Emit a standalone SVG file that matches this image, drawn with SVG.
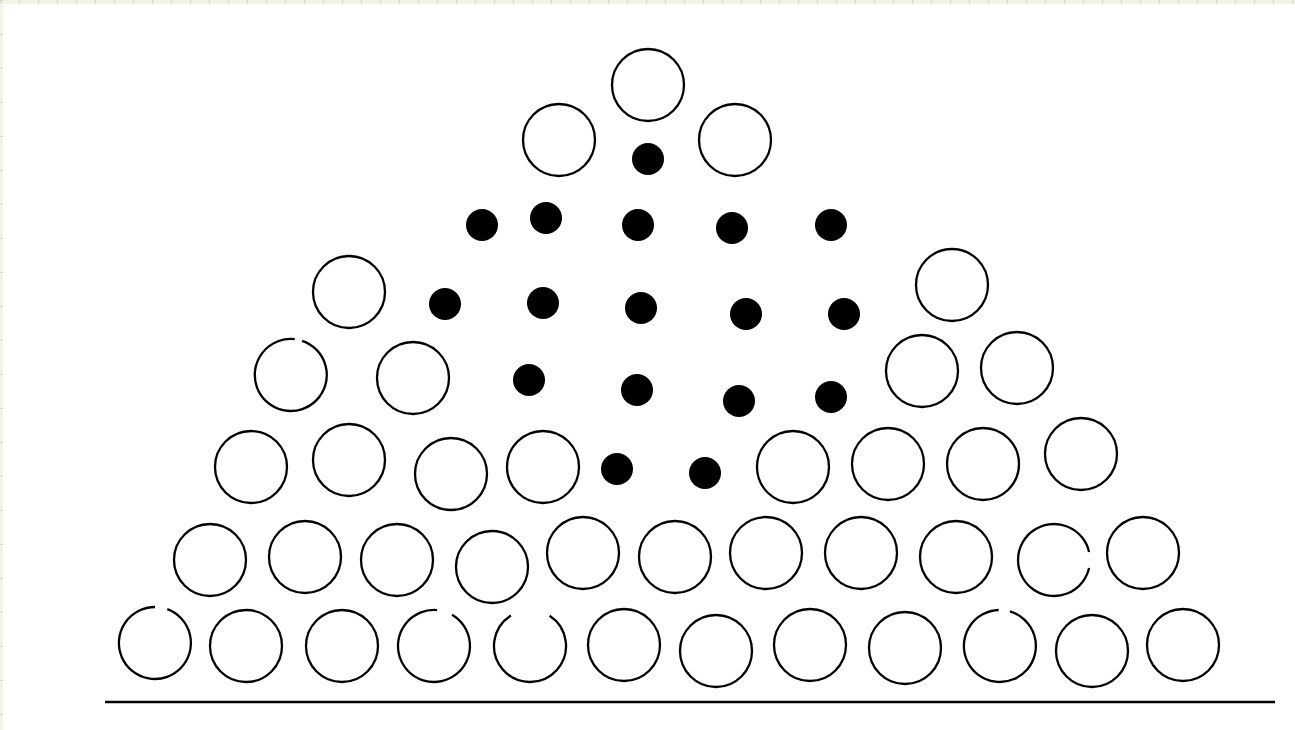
<svg xmlns="http://www.w3.org/2000/svg" width="1295" height="730" viewBox="0 0 1295 730">
<style>
.c{fill:none;stroke:#000;stroke-width:2.3}
.d{fill:#000;stroke:none}
.base{stroke:#000;stroke-width:2.5}
</style>
<rect x="0" y="0" width="1295" height="730" fill="#fff"/>
<rect x="0" y="0" width="1295" height="4" fill="#f4f4e6"/>
<rect x="0" y="0" width="3" height="730" fill="#f4f4e6"/>
<line x1="0" y1="2" x2="1295" y2="2" stroke="#d8d8c8" stroke-width="4" stroke-dasharray="1 18"/>
<line x1="1.5" y1="0" x2="1.5" y2="730" stroke="#d8d8c8" stroke-width="3" stroke-dasharray="1 33"/>
<g id="open-circles">
<circle class="c" cx="648" cy="85" r="36"/>
<circle class="c" cx="559" cy="140" r="36"/>
<circle class="c" cx="735" cy="140" r="36"/>
<circle class="c" cx="349" cy="292" r="36"/>
<circle class="c" cx="952" cy="285" r="36"/>
<path class="c" d="M302.1,340.8 A36,36 0 1 1 294.8,339.2"/>
<circle class="c" cx="413" cy="378" r="36"/>
<circle class="c" cx="922" cy="371" r="36"/>
<circle class="c" cx="1017" cy="368" r="36"/>
<circle class="c" cx="251" cy="467" r="36"/>
<circle class="c" cx="349" cy="460" r="36"/>
<circle class="c" cx="451" cy="474" r="36"/>
<circle class="c" cx="543" cy="467" r="36"/>
<circle class="c" cx="793" cy="467" r="36"/>
<circle class="c" cx="888" cy="464" r="36"/>
<circle class="c" cx="983" cy="464" r="36"/>
<circle class="c" cx="1081" cy="454" r="36"/>
<circle class="c" cx="210" cy="560" r="36"/>
<circle class="c" cx="305" cy="557" r="36"/>
<circle class="c" cx="397" cy="560" r="36"/>
<circle class="c" cx="492" cy="567" r="36"/>
<circle class="c" cx="583" cy="553" r="36"/>
<circle class="c" cx="675" cy="557" r="36"/>
<circle class="c" cx="766" cy="553" r="36"/>
<circle class="c" cx="861" cy="553" r="36"/>
<circle class="c" cx="956" cy="557" r="36"/>
<path class="c" d="M1089.1,568.1 A36,36 0 1 1 1089.1,551.9"/>
<circle class="c" cx="1143" cy="553" r="36"/>
<path class="c" d="M167.3,609.2 A36,36 0 1 1 155,607"/>
<circle class="c" cx="246" cy="646" r="36"/>
<circle class="c" cx="342" cy="646" r="36"/>
<path class="c" d="M452,614.8 A36,36 0 1 1 437.1,610.1"/>
<path class="c" d="M549.6,615.8 A36,36 0 1 1 510.9,615.5"/>
<circle class="c" cx="624" cy="645" r="36"/>
<circle class="c" cx="716" cy="651" r="36"/>
<circle class="c" cx="810" cy="645" r="36"/>
<circle class="c" cx="905" cy="648" r="36"/>
<path class="c" d="M1009.9,611.4 A36,36 0 1 1 998.7,610"/>
<circle class="c" cx="1092" cy="651" r="36"/>
<circle class="c" cx="1183" cy="645" r="36"/>
</g>
<g id="dots">
<circle class="d" cx="648" cy="159" r="16"/>
<circle class="d" cx="482" cy="225" r="16"/>
<circle class="d" cx="546" cy="218" r="16"/>
<circle class="d" cx="638" cy="225" r="16"/>
<circle class="d" cx="732" cy="228" r="16"/>
<circle class="d" cx="831" cy="225" r="16"/>
<circle class="d" cx="445" cy="304" r="16"/>
<circle class="d" cx="543" cy="303" r="16"/>
<circle class="d" cx="641" cy="308" r="16"/>
<circle class="d" cx="746" cy="314" r="16"/>
<circle class="d" cx="844" cy="314" r="16"/>
<circle class="d" cx="529" cy="380" r="16"/>
<circle class="d" cx="637" cy="390" r="16"/>
<circle class="d" cx="739" cy="401" r="16"/>
<circle class="d" cx="831" cy="397" r="16"/>
<circle class="d" cx="617" cy="469" r="16"/>
<circle class="d" cx="705" cy="473" r="16"/>
</g>
<g id="baseline">
<line class="base" x1="105" y1="702" x2="1275" y2="702"/>
</g>
</svg>
